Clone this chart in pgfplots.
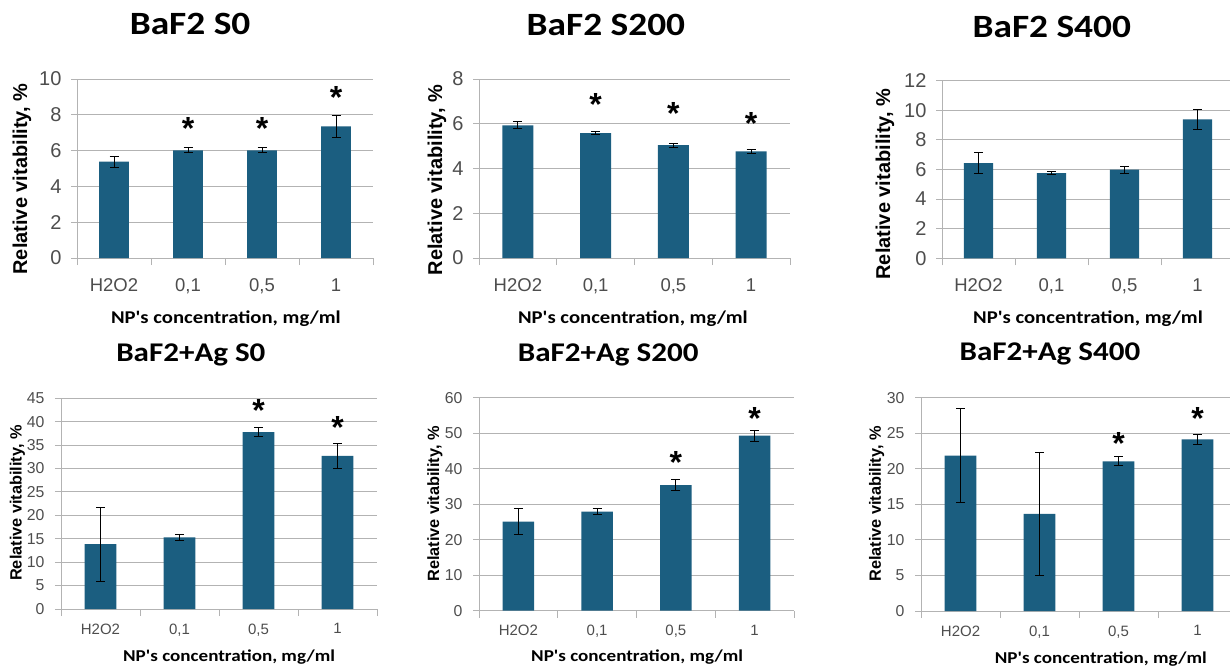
\documentclass[border=0pt]{standalone}
\usepackage{fontspec}
\usepackage{pgfplots}
\usepackage{pgfplotstable}
\pgfplotsset{compat=1.18}
\setmainfont{Liberation Sans}
\newfontfamily\aptos[FakeStretch=1.15]{Carlito}
\newfontfamily\arialf{Liberation Sans}
\definecolor{barblue}{HTML}{1B5E80}
\definecolor{gridgray}{HTML}{B3B3B3}
\definecolor{tickgray}{HTML}{4D4D4D}

\pgfplotstableread{
x y e
0 5.38 0.30
1 6.01 0.14
2 6.01 0.14
3 7.35 0.60
}\dataA
\pgfplotstableread{
x y e
0 5.93 0.15
1 5.58 0.08
2 5.04 0.08
3 4.77 0.08
}\dataB
\pgfplotstableread{
x y e
0 6.43 0.73
1 5.76 0.10
2 5.99 0.23
3 9.39 0.68
}\dataC
\pgfplotstableread{
x y e
0 13.85 7.9
1 15.3 0.6
2 37.8 1.0
3 32.7 2.7
}\dataD
\pgfplotstableread{
x y e
0 25.1 3.7
1 27.9 0.8
2 35.4 1.5
3 49.3 1.5
}\dataE
\pgfplotstableread{
x y e
0 21.85 6.65
1 13.65 8.7
2 21.05 0.65
3 24.15 0.7
}\dataF

\tikzset{star/.style={font=\arialf\bfseries\fontsize{32}{32}\selectfont, inner sep=0pt, anchor=center}}

\pgfplotsset{
  panel/.style={
    scale only axis, anchor=south west,
    xmin=-0.5, xmax=3.5, ymin=0,
    xtick={0,1,2,3}, xticklabels={H2O2,{0,1},{0,5},1},
    minor xtick={-0.5,0.5,1.5,2.5,3.5},
    major x tick style={draw=none},
    minor x tick style={draw=gridgray, line width=1pt},
    major y tick style={draw=gridgray, line width=1pt},
    tick align=outside,
    major tick length=6pt, minor tick length=7pt,
    axis x line*=bottom, axis y line*=left,
    axis line style={-, draw=gridgray, line width=1pt},
    ymajorgrids, grid style={draw=gridgray, line width=1pt},
    ticklabel style={text=tickgray},
    /pgf/number format/assume math mode=true,
    clip=false,
    title style={anchor=base},
    xlabel style={anchor=base},
    ylabel style={anchor=center},
  },
  toprow/.style={
    title style={font=\aptos\bfseries\fontsize{32.5}{34}\selectfont},
    xlabel style={font=\aptos\bfseries\fontsize{18}{20}\selectfont},
    ylabel style={font=\arialf\bfseries\fontsize{20}{22}\selectfont},
    yticklabel style={font=\arialf\fontsize{20}{21}\selectfont, xshift=-6pt},
    xticklabel style={font=\arialf\fontsize{18.5}{20}\selectfont, yshift=-11pt},
  },
  botrow/.style={
    title style={font=\aptos\bfseries\fontsize{27}{29}\selectfont},
    xlabel style={font=\aptos\bfseries\fontsize{16.6}{18}\selectfont},
    ylabel style={font=\arialf\bfseries\fontsize{16.3}{18}\selectfont},
    yticklabel style={font=\arialf\fontsize{15.8}{17}\selectfont, xshift=-7pt},
    xticklabel style={font=\arialf\fontsize{15}{16}\selectfont, yshift=-5pt},
  },
  barplot/.style={
    ybar, bar width=0.4, fill=barblue, draw=none,
    error bars/.cd, y dir=both, y explicit,
    error bar style={black, line width=1pt},
    error mark options={rotate=90, mark size=4.5pt, line width=1pt, black},
  },
}

\begin{document}
\begin{tikzpicture}
\useasboundingbox (0,0) rectangle (1230pt,-666pt);

% ---- BaF2 S0
\begin{axis}[panel, toprow, at={(77pt,-258pt)}, width=296pt, height=179pt,
  ymax=10, ytick={0,2,...,10},
  title={BaF2 S0}, title style={at={(axis description cs:0.382,1.214)}},
  xlabel={NP's concentration, mg/ml}, xlabel style={at={(axis description cs:0.503,-0.365)}},
  ylabel={Relative vitability, \%}, ylabel style={at={(axis description cs:-0.186,0.441)}}]
\addplot[barplot] table[x=x, y=y, y error=e] {\dataA};
\node[star] at (axis cs:1,7.26) {*};
\node[star] at (axis cs:2,7.26) {*};
\node[star] at (axis cs:3,8.94) {*};
\end{axis}

% ---- BaF2 S200
\begin{axis}[panel, toprow, at={(479pt,-258pt)}, width=311pt, height=179pt,
  ymax=8, ytick={0,2,...,8},
  title={BaF2 S200}, title style={at={(axis description cs:0.408,1.208)}},
  xlabel={NP's concentration, mg/ml}, xlabel style={at={(axis description cs:0.495,-0.365)}},
  ylabel={Relative vitability, \%}, ylabel style={at={(axis description cs:-0.135,0.436)}}]
\addplot[barplot] table[x=x, y=y, y error=e] {\dataB};
\node[star] at (axis cs:1,6.87) {*};
\node[star] at (axis cs:2,6.47) {*};
\node[star] at (axis cs:3,5.99) {*};
\end{axis}

% ---- BaF2 S400
\begin{axis}[panel, toprow, at={(942pt,-258.3pt)}, width=292pt, height=177.6pt,
  ymax=12, ytick={0,2,...,12},
  title={BaF2 S400}, title style={at={(axis description cs:0.376,1.211)}},
  xlabel={NP's concentration, mg/ml}, xlabel style={at={(axis description cs:0.5,-0.366)}},
  ylabel={Relative vitability, \%}, ylabel style={at={(axis description cs:-0.195,0.418)}}]
\addplot[barplot] table[x=x, y=y, y error=e] {\dataC};
\end{axis}

% ---- BaF2+Ag S0
\begin{axis}[panel, botrow, at={(61pt,-609pt)}, width=316pt, height=210.7pt,
  ymax=45, ytick={0,5,...,45},
  title={BaF2+Ag S0}, title style={at={(axis description cs:0.411,1.145)}},
  xlabel={NP's concentration, mg/ml}, xlabel style={at={(axis description cs:0.532,-0.250)}},
  ylabel={Relative vitability, \%}, ylabel style={at={(axis description cs:-0.138,0.503)}}]
\addplot[barplot] table[x=x, y=y, y error=e] {\dataD};
\node[star] at (axis cs:2,42.3) {*};
\node[star] at (axis cs:3,38.7) {*};
\end{axis}

% ---- BaF2+Ag S200
\begin{axis}[panel, botrow, at={(479pt,-610.7pt)}, width=315pt, height=213pt,
  ymax=60, ytick={0,10,...,60},
  title={BaF2+Ag S200}, title style={at={(axis description cs:0.410,1.141)}},
  xlabel={NP's concentration, mg/ml}, xlabel style={at={(axis description cs:0.502,-0.239)}},
  ylabel={Relative vitability, \%}, ylabel style={at={(axis description cs:-0.140,0.501)}}]
\addplot[barplot] table[x=x, y=y, y error=e] {\dataE};
\node[star] at (axis cs:2,41.7) {*};
\node[star] at (axis cs:3,54.2) {*};
\end{axis}

% ---- BaF2+Ag S400
\begin{axis}[panel, botrow, at={(921pt,-611pt)}, width=316pt, height=213.3pt,
  ymax=30, ytick={0,5,...,30},
  title={BaF2+Ag S400}, title style={at={(axis description cs:0.408,1.145)}},
  xlabel={NP's concentration, mg/ml}, xlabel style={at={(axis description cs:0.569,-0.244)}},
  ylabel={Relative vitability, \%}, ylabel style={at={(axis description cs:-0.140,0.502)}}]
\addplot[barplot] table[x=x, y=y, y error=e] {\dataF};
\node[star] at (axis cs:2,23.6) {*};
\node[star] at (axis cs:3,27.1) {*};
\end{axis}
\end{tikzpicture}
\end{document}
